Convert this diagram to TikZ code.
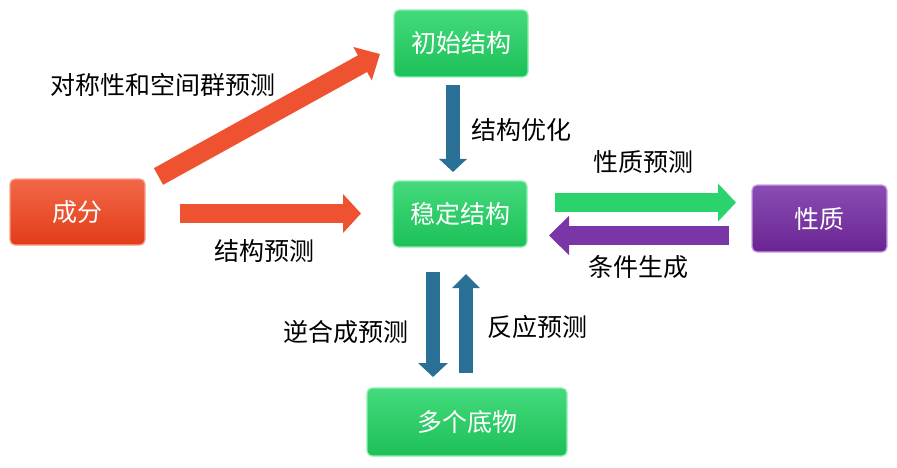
\documentclass[tikz,border=0pt]{standalone}
\usepackage{fontspec}
\setmainfont{Noto Sans CJK SC}
\usetikzlibrary{arrows.meta}
\definecolor{ortop}{HTML}{F26848}
\definecolor{orbot}{HTML}{E23C18}
\definecolor{orlight}{HTML}{F7A088}
\definecolor{orarrow}{HTML}{EE5230}
\definecolor{grtop}{HTML}{44DA7C}
\definecolor{grbot}{HTML}{1CC058}
\definecolor{grlight}{HTML}{8FF0B0}
\definecolor{grarrow}{HTML}{2AD36C}
\definecolor{pptop}{HTML}{8A4DB3}
\definecolor{ppbot}{HTML}{6A2492}
\definecolor{pplight}{HTML}{C9A0E6}
\definecolor{pparrow}{HTML}{7A36A6}
\definecolor{blarrow}{HTML}{2A6F96}
\begin{document}
\begin{tikzpicture}[x=1pt,y=-1pt,
  box/.style={rounded corners=5pt, inner sep=0pt, text=white, line width=1.2pt,
    font=\fontsize{25}{25}\selectfont},
  orbox/.style={box, top color=ortop, bottom color=orbot, draw=orlight},
  grbox/.style={box, top color=grtop, bottom color=grbot, draw=grlight},
  ppbox/.style={box, top color=pptop, bottom color=ppbot, draw=pplight},
  lbl/.style={inner sep=0pt, text=black, font=\fontsize{25}{25}\selectfont},
  fatarrow/.style={line width=19pt, -{Triangle[length=18pt,width=38pt]}},
  thinarrow/.style={line width=14pt, -{Triangle[length=14pt,width=28pt]}}
]
\useasboundingbox (0,0) rectangle (897,468);
\fill[white] (0,0) rectangle (897,468);

% boxes
\node[orbox, minimum width=135pt, minimum height=66pt] (cf) at (77.5,212) {成分};
\node[grbox, minimum width=134pt, minimum height=67pt] (init) at (461,43.5) {初始结构};
\node[grbox, minimum width=134pt, minimum height=66pt] (stable) at (460,214) {稳定结构};
\node[ppbox, minimum width=135pt, minimum height=67pt] (xz) at (819.5,218.5) {性质};
\node[grbox, minimum width=200pt, minimum height=68pt] (dw) at (467,422) {多个底物};

% arrow end points
\coordinate (d1) at (158.5,176.5);
\coordinate (d2) at (380,54);
\coordinate (h1) at (180,213.5);
\coordinate (h2) at (361,213.5);
\coordinate (v1) at (453,85);
\coordinate (v2) at (453,172);
\coordinate (g1) at (555,202.5);
\coordinate (g2) at (736,202.5);
\coordinate (p1) at (729,235.5);
\coordinate (p2) at (549,235.5);
\coordinate (b1) at (433,272);
\coordinate (b2) at (433,377);
\coordinate (u1) at (466,373);
\coordinate (u2) at (466,274);

\draw[fatarrow, orarrow, -{Triangle[length=20pt,width=37pt]}] (d1) -- (d2);
\draw[fatarrow, orarrow] (h1) -- (h2);
\draw[thinarrow, blarrow, -{Triangle[length=13pt,width=27pt]}] (v1) -- (v2);
\draw[fatarrow, grarrow, -{Triangle[length=18pt,width=37pt]}] (g1) -- (g2);
\draw[fatarrow, pparrow, -{Triangle[length=20pt,width=38pt]}] (p1) -- (p2);
\draw[thinarrow, blarrow, -{Triangle[length=14pt,width=29pt]}] (b1) -- (b2);
\draw[thinarrow, blarrow, -{Triangle[length=14pt,width=27pt]}] (u1) -- (u2);

% labels
\node[lbl] (l1) at (163,85) {对称性和空间群预测};
\node[lbl] (l2) at (264,251) {结构预测};
\node[lbl] (l3) at (521,130) {结构优化};
\node[lbl] (l4) at (643,162) {性质预测};
\node[lbl] (l5) at (638,267) {条件生成};
\node[lbl] (l6) at (345.5,332) {逆合成预测};
\node[lbl] (l7) at (537,327) {反应预测};
\end{tikzpicture}
\end{document}
